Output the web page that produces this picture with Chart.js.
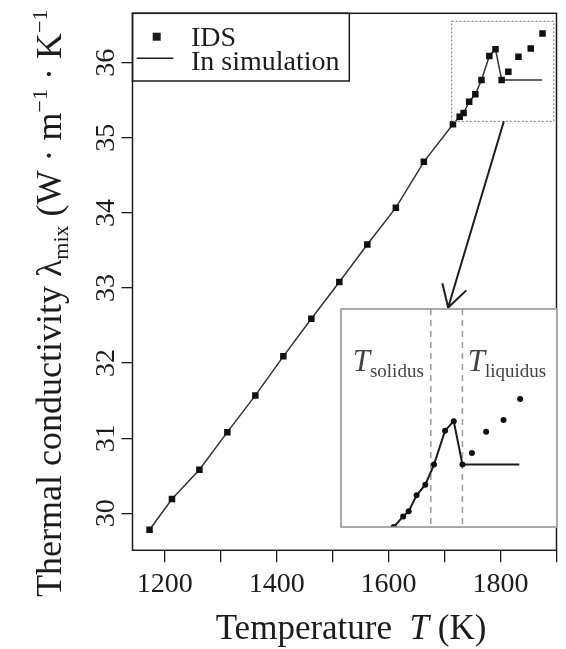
<!DOCTYPE html>
<html>
<head>
<meta charset="utf-8">
<script src="https://cdn.jsdelivr.net/npm/chart.js@4.4.0/dist/chart.umd.min.js"></script>
<style>
    html, body { margin: 0; padding: 0; background: #fff; }
    #wrap { position: relative; width: 566px; height: 649px; }
    #mainChart { position: absolute; left: 0; top: 0; }
    #insetChart { position: absolute; left: 340px; top: 308px; }
</style>
</head>
<body>
<div id="wrap">
    <canvas id="mainChart" width="566" height="649"></canvas>
    <canvas id="insetChart" width="218" height="220"></canvas>
</div>
<script>
// IDS measurements (square markers)
const idsTemps  = [1173, 1213, 1262, 1312, 1362, 1412, 1462, 1512, 1562, 1613, 1663, 1715, 1727, 1734, 1744, 1755, 1766, 1780, 1791, 1802, 1814, 1832, 1854, 1875];
const idsValues = [29.78, 30.19, 30.58, 31.08, 31.57, 32.09, 32.59, 33.08, 33.58, 34.07, 34.68, 35.18, 35.28, 35.33, 35.48, 35.58, 35.77, 36.09, 36.18, 35.77, 35.88, 36.08, 36.19, 36.39];

// values used in the simulation (solid line)
const simTemps  = [1173, 1213, 1262, 1312, 1362, 1412, 1462, 1512, 1562, 1613, 1663, 1715, 1727, 1734, 1744, 1755, 1766, 1780, 1791, 1802, 1874];
const simValues = [29.78, 30.19, 30.58, 31.08, 31.57, 32.09, 32.59, 33.08, 33.58, 34.07, 34.68, 35.18, 35.28, 35.33, 35.48, 35.58, 35.77, 36.09, 36.18, 35.77, 35.77];

// axes
const xTicks  = [1200, 1300, 1400, 1500, 1600, 1700, 1800, 1900];
const xLabels = [1200, 1400, 1600, 1800];
const yTicks  = [30, 31, 32, 33, 34, 35, 36];

// phase change temperatures shown in the inset
const tSolidus  = 1762;
const tLiquidus = 1802;

// zoomed window (main chart data units) and arrow to the inset
const zoomT = [1712.5, 1895];
const zoomL = [35.22, 36.55];
const arrowFrom = [1806, 35.22];
const arrowTo   = [1706.4, 32.74];

const ink = '#1c1c1c';
const serif = '"Liberation Serif", "Times New Roman", serif';

const toPoints = (xs,ys) => xs.map((x,i) => ({ x: x,y: ys[i] }));

// draw a run of text pieces with their own font and vertical shift
const drawRich = (ctx,pieces,x,y,rotate,anchor) =>
{
    let total = 0;
    pieces.forEach(p =>
    {
        ctx.font = p.font;
        p.w = ctx.measureText(p.text).width;
        total += p.w;
    });
    ctx.save();
    ctx.translate(x,y);
    if (rotate) ctx.rotate(-Math.PI / 2);
    ctx.textAlign = 'left';
    ctx.textBaseline = 'alphabetic';
    let cx = anchor === 'start' ? 0 : -total / 2;
    pieces.forEach(p =>
    {
        ctx.font = p.font;
        ctx.fillText(p.text,cx,p.dy || 0);
        cx += p.w;
    });
    ctx.restore();
};

const mainDecor = {
    id: 'mainDecor',
    afterDraw(chart)
    {
        const { ctx,chartArea: a,scales: { x,y } } = chart;
        ctx.save();
        ctx.fillStyle = ink;
        ctx.strokeStyle = ink;

        // frame
        ctx.lineWidth = 1.5;
        ctx.strokeRect(a.left,a.top,a.right - a.left,a.bottom - a.top);

        // y tick labels, parallel to the axis
        ctx.font = '28px ' + serif;
        ctx.textAlign = 'center';
        ctx.textBaseline = 'middle';
        yTicks.forEach(v =>
        {
            ctx.save();
            ctx.translate(107,y.getPixelForValue(v));
            ctx.rotate(-Math.PI / 2);
            ctx.fillText(String(v),0,0);
            ctx.restore();
        });

        // axis titles (the closing bracket is cut off at the top in the source)
        const big = '35px ' + serif;
        const yBig = '36px ' + serif;
        const small = '22px ' + serif;
        drawRich(ctx,[
            { text: 'Thermal conductivity ',font: yBig },
            { text: 'λ',font: yBig },
            { text: 'mix',font: small,dy: 7 },
            { text: ' (W · m',font: yBig },
            { text: '−1',font: small,dy: -14 },
            { text: ' · K',font: yBig },
            { text: '−1',font: small,dy: -14 }
        ],61,597,true,'start');

        drawRich(ctx,[
            { text: 'Temperature  ',font: big },
            { text: 'T',font: 'italic ' + big },
            { text: ' (K)',font: big }
        ],351,639,false);

        // legend
        ctx.lineWidth = 1.5;
        ctx.strokeRect(a.left,a.top,349.3 - a.left,81 - a.top);
        ctx.fillRect(152.7,32.7,8,8);
        ctx.beginPath();
        ctx.moveTo(136.7,58.3);
        ctx.lineTo(173.3,58.3);
        ctx.stroke();
        ctx.font = '28px ' + serif;
        ctx.textAlign = 'left';
        ctx.textBaseline = 'alphabetic';
        ctx.fillText('IDS',191,45.5);
        ctx.fillText('In simulation',191,70);

        // dotted window around the zoomed region
        const zx0 = x.getPixelForValue(zoomT[0]),zx1 = x.getPixelForValue(zoomT[1]);
        const zy0 = y.getPixelForValue(zoomL[1]),zy1 = y.getPixelForValue(zoomL[0]);
        ctx.save();
        ctx.strokeStyle = '#8a8a8a';
        ctx.lineWidth = 1.2;
        ctx.setLineDash([2,2]);
        ctx.strokeRect(zx0,zy0,zx1 - zx0,zy1 - zy0);
        ctx.restore();

        // arrow to the inset
        const ax0 = x.getPixelForValue(arrowFrom[0]),ay0 = y.getPixelForValue(arrowFrom[1]);
        const ax1 = x.getPixelForValue(arrowTo[0]),ay1 = y.getPixelForValue(arrowTo[1]);
        const ang = Math.atan2(ay1 - ay0,ax1 - ax0);
        const head = 25;
        ctx.lineWidth = 2;
        ctx.beginPath();
        ctx.moveTo(ax0,ay0);
        ctx.lineTo(ax1,ay1);
        ctx.moveTo(ax1 - head * Math.cos(ang - Math.PI / 6),ay1 - head * Math.sin(ang - Math.PI / 6));
        ctx.lineTo(ax1,ay1);
        ctx.lineTo(ax1 - head * Math.cos(ang + Math.PI / 6),ay1 - head * Math.sin(ang + Math.PI / 6));
        ctx.stroke();

        ctx.restore();
    }
};

const insetDecor = {
    id: 'insetDecor',
    beforeDraw(chart)
    {
        const { ctx,width,height } = chart;
        ctx.save();
        ctx.fillStyle = '#fff';
        ctx.fillRect(0,0,width,height);
        ctx.restore();
    },
    beforeDatasetsDraw(chart)
    {
        const { ctx,chartArea: a,scales: { x } } = chart;
        ctx.save();
        ctx.strokeStyle = '#9a9a9a';
        ctx.lineWidth = 1.5;
        ctx.setLineDash([6,5]);
        [tSolidus,tLiquidus].forEach(t =>
        {
            const px = x.getPixelForValue(t);
            ctx.beginPath();
            ctx.moveTo(px,a.top);
            ctx.lineTo(px,a.bottom);
            ctx.stroke();
        });
        ctx.restore();
    },
    afterDraw(chart)
    {
        const { ctx,chartArea: a } = chart;
        ctx.save();
        ctx.strokeStyle = '#8c8c8c';
        ctx.lineWidth = 1.5;
        ctx.strokeRect(a.left,a.top,a.right - a.left,a.bottom - a.top);
        ctx.fillStyle = '#444';
        drawRich(ctx,[
            { text: 'T',font: 'italic 31px ' + serif },
            { text: 'solidus',font: '19px ' + serif,dy: 6 }
        ],12.7,63,false,'start');
        drawRich(ctx,[
            { text: 'T',font: 'italic 31px ' + serif },
            { text: 'liquidus',font: '19px ' + serif,dy: 6 }
        ],127.7,63,false,'start');
        ctx.restore();
    }
};

const initMainChart = () =>
{
    const ctx = document.getElementById('mainChart').getContext('2d');
    return new Chart(ctx,{
        type: 'scatter',
        data: {
            datasets: [{
                label: 'IDS',
                data: toPoints(idsTemps,idsValues),
                showLine: false,
                pointStyle: 'rect',
                pointRadius: 4.6,
                backgroundColor: '#111',
                borderColor: '#111',
                borderWidth: 0
            },{
                label: 'In simulation',
                data: toPoints(simTemps,simValues),
                showLine: true,
                pointRadius: 0,
                borderColor: '#333',
                borderWidth: 1.5,
                tension: 0
            }]
        },
        options: {
            responsive: false,
            animation: false,
            layout: { autoPadding: false,padding: { top: 13.3,right: 9.5,left: 0,bottom: 0 } },
            scales: {
                x: {
                    type: 'linear',
                    min: 1142.5,
                    max: 1900,
                    afterBuildTicks: s => { s.ticks = xTicks.map(v => ({ value: v })); },
                    afterFit: s => { s.height = 98.7; },
                    grid: { display: true,drawOnChartArea: false,drawTicks: true,tickLength: 12,color: ink,lineWidth: 1.3 },
                    border: { display: false },
                    ticks: {
                        color: ink,
                        padding: 6,
                        maxRotation: 0,
                        autoSkip: false,
                        font: { family: serif,size: 28 },
                        callback: v => xLabels.includes(v) ? String(v) : ''
                    }
                },
                y: {
                    type: 'linear',
                    min: 29.507,
                    max: 36.658,
                    afterBuildTicks: s => { s.ticks = yTicks.map(v => ({ value: v })); },
                    afterFit: s => { s.width = 132.5; },
                    grid: { display: true,drawOnChartArea: false,drawTicks: true,tickLength: 11,color: ink,lineWidth: 1.3 },
                    border: { display: false },
                    ticks: { display: false }
                }
            },
            plugins: {
                legend: { display: false },
                tooltip: { enabled: false }
            }
        },
        plugins: [mainDecor]
    });
};

const initInsetChart = () =>
{
    const ctx = document.getElementById('insetChart').getContext('2d');
    return new Chart(ctx,{
        type: 'scatter',
        data: {
            datasets: [{
                data: toPoints(idsTemps,idsValues),
                showLine: false,
                pointStyle: 'circle',
                pointRadius: 3,
                backgroundColor: '#111',
                borderWidth: 0
            },{
                data: toPoints(simTemps,simValues),
                showLine: true,
                pointRadius: 0,
                borderColor: '#1a1a1a',
                borderWidth: 2,
                tension: 0
            }]
        },
        options: {
            responsive: false,
            animation: false,
            layout: { autoPadding: false,padding: 1 },
            scales: {
                x: { type: 'linear',min: 1648.3,max: 1921.7,display: false },
                y: { type: 'linear',min: 35.18,max: 37.24,display: false }
            },
            plugins: {
                legend: { display: false },
                tooltip: { enabled: false }
            }
        },
        plugins: [insetDecor]
    });
};

const main = () =>
{
    initMainChart();
    initInsetChart();
};

main();
</script>
</body>
</html>
